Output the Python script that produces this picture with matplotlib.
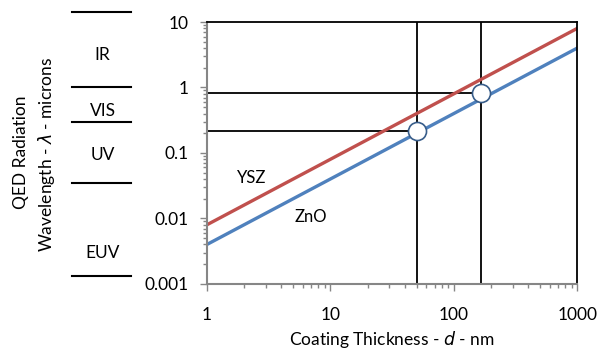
import numpy as np
import matplotlib
matplotlib.use('Agg')
import matplotlib.pyplot as plt
import matplotlib.transforms as mtransforms

plt.rcParams['font.family'] = ['Lato', 'DejaVu Sans']
plt.rcParams['mathtext.fontset'] = 'dejavusans'

# Données
thickness = [1, 1000]
ysz = [0.008, 8.0]
zno = [0.004, 4.0]
marked_d = [50, 165]
marked_wl = [0.22, 0.82]
band_edges = [14, 1.0, 0.3, 0.035, 0.0013]
band_names = ['IR', 'VIS', 'UV', 'EUV']
band_label_y = [3.1, 0.44, 0.093, 0.003]
x_ticks = [1, 10, 100, 1000]
x_ticklabels = ['1', '10', '100', '1000']
y_ticks = [0.001, 0.01, 0.1, 1, 10]
y_ticklabels = ['0.001', '0.01', '0.1', '1', '10']

fig = plt.figure(figsize=(6, 3.5), dpi=100)
ax = fig.add_axes([0.345, 0.189, 0.617, 0.748])

ax.set_xscale('log')
ax.set_yscale('log')
ax.set_xlim(1, 1000)
ax.set_ylim(0.001, 10)

# repères verticaux et horizontaux
for d in marked_d:
    ax.axvline(d, color='black', lw=1.3, zorder=1)
for d, wl in zip(marked_d, marked_wl):
    ax.plot([1, d], [wl, wl], color='black', lw=1.3, zorder=1)

ax.plot(thickness, ysz, color='#C0504D', lw=2.4, zorder=2)
ax.plot(thickness, zno, color='#4F81BD', lw=2.4, zorder=2)
ax.plot(marked_d, marked_wl, 'o', ms=13, mfc='white', mec='#385D8A', mew=1.2, zorder=3)

ax.text(2.3, 0.041, 'YSZ', fontsize=12, ha='center', va='center')
ax.text(6.9, 0.0105, 'ZnO', fontsize=12, ha='center', va='center')

ax.set_xticks(x_ticks)
ax.set_xticklabels(x_ticklabels)
ax.set_yticks(y_ticks)
ax.set_yticklabels(y_ticklabels)
ax.tick_params(axis='both', which='major', labelsize=12.5, color='#868686', length=5, width=1)
ax.tick_params(axis='both', which='minor', color='#868686', length=3, width=1)
ax.tick_params(axis='x', pad=12)
ax.tick_params(axis='y', pad=8)

for s in ['left', 'bottom']:
    ax.spines[s].set_color('#868686')
    ax.spines[s].set_linewidth(1.5)
for s in ['top', 'right']:
    ax.spines[s].set_color('black')
    ax.spines[s].set_linewidth(1.3)

ax.set_xlabel('Coating Thickness - $\\it{d}$ - nm', fontsize=12.5, labelpad=4)

# bandes spectrales à gauche de l'axe
trans = mtransforms.blended_transform_factory(ax.transAxes, ax.transData)
for e in band_edges:
    ax.plot([-0.365, -0.205], [e, e], color='black', lw=1.5, transform=trans, clip_on=False)
for name, yy in zip(band_names, band_label_y):
    ax.text(-0.282, yy, name, fontsize=12.5, ha='center', va='center', transform=trans)

fig.text(0.035, 0.565, 'QED Radiation', rotation=90, fontsize=12.5, ha='center', va='center')
fig.text(0.077, 0.558, 'Wavelength - $\\lambda$ - microns', rotation=90, fontsize=12.5, ha='center', va='center')

fig.savefig('out.png', dpi=100)
